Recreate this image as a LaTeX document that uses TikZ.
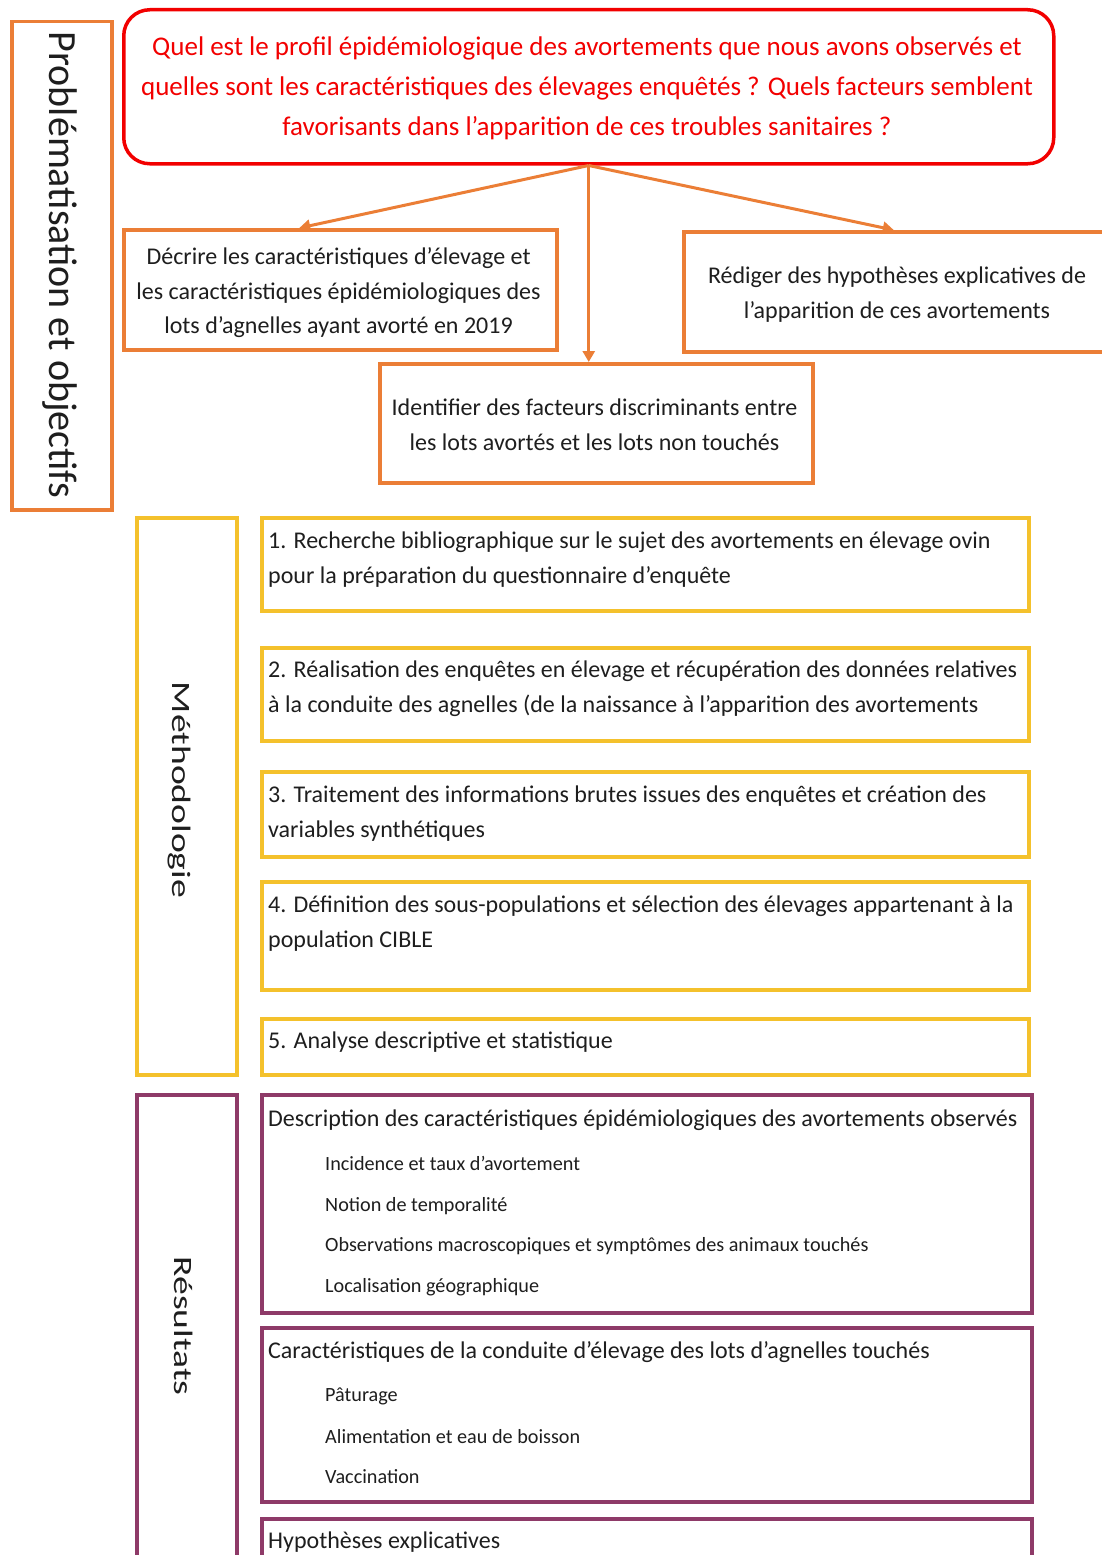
\documentclass[tikz,border=0pt]{standalone}
\usepackage{fontspec}
\setmainfont{Carlito}
\usetikzlibrary{arrows.meta}
\definecolor{cOrange}{HTML}{EB7E36}
\definecolor{cYellow}{HTML}{F4C12C}
\definecolor{cRed}{HTML}{F20000}
\definecolor{cPurple}{HTML}{8E3A68}
\definecolor{cText}{HTML}{1E1E1E}
\begin{document}
\begin{tikzpicture}[x=1pt,y=-1pt,
  frame/.style={draw=#1, line width=3.5pt, inner sep=0pt, anchor=north west, fill=white},
  ctext/.style={align=center, text=cText, inner sep=0pt, font=\fontsize{24}{34.5}\selectfont},
  mtext/.style={align=left, text=cText, inner sep=0pt, anchor=mid west, font=\fontsize{24}{35}\selectfont},
  itext/.style={text=cText, inner sep=0pt, anchor=mid west, font=\fontsize{20.2}{24}\selectfont},
  vlabel/.style={rotate=-90, anchor=mid, inner sep=0pt, text=cText},
  arr/.style={draw=cOrange, line width=3pt, -{Triangle[length=11pt,width=12pt]}}
]
\useasboundingbox (0,0) rectangle (1102,1555);
\clip (0,0) rectangle (1102,1555);

% ---------- Problématisation et objectifs ----------
\node[frame=cOrange, minimum width=100pt, minimum height=488pt] (pb) at (10,20) {};
\node[vlabel, font=\fontsize{40}{44}\selectfont] (pbl) at (52,265) {Problématisation et objectifs};

\node[draw=cRed, line width=3.5pt, rounded corners=26pt, inner sep=0pt, anchor=north west,
      minimum width=930pt, minimum height=154pt] (q) at (122,8) {};
\node[align=center, text=cRed, inner sep=0pt, font=\fontsize{27}{40}\selectfont] (qt) at (587,88)
 {Quel est le profil épidémiologique des avortements que nous avons observés et\\
  quelles sont les caractéristiques des élevages enquêtés ? Quels facteurs semblent\\
  favorisants dans l’apparition de ces troubles sanitaires ?};

\node[frame=cOrange, minimum width=433pt, minimum height=120pt] (o1) at (122,228) {};
\node[ctext] (o1t) at (338.5,293)
 {Décrire les caractéristiques d’élevage et\\
  les caractéristiques épidémiologiques des\\
  lots d’agnelles ayant avorté en 2019};

\node[frame=cOrange, minimum width=420pt, minimum height=120pt] (o3) at (682,230) {};
\node[ctext] (o3t) at (897,294.5)
 {Rédiger des hypothèses explicatives de\\
  l’apparition de ces avortements};

\node[frame=cOrange, minimum width=433pt, minimum height=119pt] (o2) at (378,362) {};
\node[ctext] (o2t) at (594.5,425)
 {Identifier des facteurs discriminants entre\\
  les lots avortés et les lots non touchés};

\draw[arr] (q.south) -- ([xshift=-41pt]o1.north);
\draw[arr] (q.south) -- (o3.north);
\draw[arr] (q.south) -- (q.south |- o2.north);

% ---------- Méthodologie ----------
\node[frame=cYellow, minimum width=100pt, minimum height=557pt] (me) at (135,516) {};
\node[vlabel, font=\fontsize{26.5}{30}\selectfont] (mel) at (175,790) {\scalebox{1.42}[1]{Méthodologie}};

\node[frame=cYellow, minimum width=767pt, minimum height=93pt] (s1) at (260,516) {};
\node[mtext] (s1t) at (268,546) {1. Recherche bibliographique sur le sujet des avortements en élevage ovin};
\node[mtext] (s1u) at (268,581) {pour la préparation du questionnaire d’enquête};

\node[frame=cYellow, minimum width=767pt, minimum height=93pt] (s2) at (260,646) {};
\node[mtext] (s2t) at (268,675) {2. Réalisation des enquêtes en élevage et récupération des données relatives};
\node[mtext] (s2u) at (268,710) {à la conduite des agnelles (de la naissance à l’apparition des avortements};

\node[frame=cYellow, minimum width=767pt, minimum height=85pt] (s3) at (260,770) {};
\node[mtext] (s3t) at (268,800) {3. Traitement des informations brutes issues des enquêtes et création des};
\node[mtext] (s3u) at (268,835) {variables synthétiques};

\node[frame=cYellow, minimum width=767pt, minimum height=108pt] (s4) at (260,880) {};
\node[mtext] (s4t) at (268,910) {4. Définition des sous-populations et sélection des élevages appartenant à la};
\node[mtext] (s4u) at (268,945) {population CIBLE};

\node[frame=cYellow, minimum width=767pt, minimum height=56pt] (s5) at (260,1017) {};
\node[mtext] (s5t) at (268,1046) {5. Analyse descriptive et statistique};

% ---------- Résultats ----------
\node[frame=cPurple, minimum width=100pt, minimum height=520pt] (re) at (135,1093) {};
\node[vlabel, font=\fontsize{26.5}{30}\selectfont] (rel) at (177,1326) {\scalebox{1.42}[1]{Résultats}};

\node[frame=cPurple, minimum width=770pt, minimum height=218pt] (r1) at (260,1093) {};
\node[mtext] (r1t) at (268,1124) {Description des caractéristiques épidémiologiques des avortements observés};
\node[itext] (r1a) at (325,1168) {Incidence et taux d’avortement};
\node[itext] (r1b) at (325,1209) {Notion de temporalité};
\node[itext] (r1c) at (325,1249) {Observations macroscopiques et symptômes des animaux touchés};
\node[itext] (r1d) at (325,1290) {Localisation géographique};

\node[frame=cPurple, minimum width=770pt, minimum height=174pt] (r2) at (260,1326) {};
\node[mtext] (r2t) at (268,1356) {Caractéristiques de la conduite d’élevage des lots d’agnelles touchés};
\node[itext] (r2a) at (325,1399) {Pâturage};
\node[itext] (r2b) at (325,1441) {Alimentation et eau de boisson};
\node[itext] (r2c) at (325,1481) {Vaccination};

\node[frame=cPurple, minimum width=770pt, minimum height=100pt] (r3) at (260,1517) {};
\node[mtext] (r3t) at (268,1546) {Hypothèses explicatives};
\end{tikzpicture}
\end{document}
